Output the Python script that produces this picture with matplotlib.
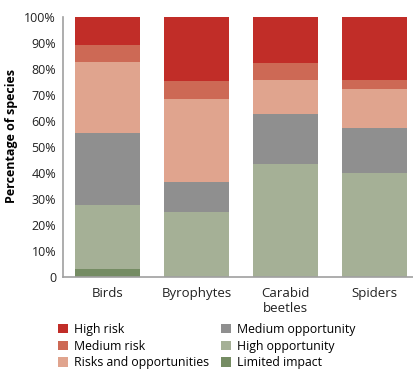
import numpy as np
import matplotlib
matplotlib.use("Agg")
import matplotlib.pyplot as plt

plt.rcParams["font.family"] = ["Open Sans", "DejaVu Sans"]

groups = ["Birds", "Byrophytes", "Carabid\nbeetles", "Spiders"]

# stacked from the bottom up
limited_impact = [3.2, 0.0, 0.0, 0.0]
high_opportunity = [24.6, 25.0, 43.6, 40.1]
medium_opportunity = [27.6, 11.5, 19.1, 17.2]
risks_and_opportunities = [27.3, 32.0, 13.1, 15.0]
medium_risk = [6.6, 6.9, 6.5, 3.5]
high_risk = [10.7, 24.6, 17.7, 24.2]

series = [
    ("Limited impact", limited_impact, "#758c63"),
    ("High opportunity", high_opportunity, "#a5b096"),
    ("Medium opportunity", medium_opportunity, "#8f8f8f"),
    ("Risks and opportunities", risks_and_opportunities, "#e0a48e"),
    ("Medium risk", medium_risk, "#cd6955"),
    ("High risk", high_risk, "#c12d28"),
]

fig = plt.figure(figsize=(4.14, 3.72), dpi=100)
ax = fig.add_axes([63 / 414, 1 - 277 / 372, 1 - 63 / 414, (277 - 16.7) / 372])

x = np.arange(len(groups))
bottom = np.zeros(len(groups))
handles = {}
for name, vals, color in series:
    vals = np.array(vals)
    h = ax.bar(x, vals, bottom=bottom, width=0.73, color=color, label=name)
    handles[name] = h
    bottom += vals

ax.set_xlim(-0.5, 3.444)
ax.set_ylim(0, 100)
ax.set_yticks(np.arange(0, 101, 10))
ax.set_yticklabels(["0"] + [f"{v}%" for v in range(10, 101, 10)])
ax.set_xticks(x)
ax.set_xticklabels(groups)
ax.tick_params(axis="both", length=0, labelsize=9, colors="#222222")
ax.tick_params(axis="x", pad=7, labelsize=9.5)
ax.tick_params(axis="y", pad=5)
ax.set_ylabel("Percentage of species", fontsize=9, fontweight="bold")
ax.yaxis.set_label_coords(-0.128, 0.54)

for side in ["top", "right"]:
    ax.spines[side].set_visible(False)
for side in ["left", "bottom"]:
    ax.spines[side].set_color("#a0a0a0")
    ax.spines[side].set_linewidth(1.2)

order = ["High risk", "Medium risk", "Risks and opportunities",
         "Medium opportunity", "High opportunity", "Limited impact"]
fig.legend([handles[n] for n in order], order, ncol=2, frameon=False,
           loc="upper left", bbox_to_anchor=(58 / 414, 1 - 323 / 372),
           fontsize=8.8, handlelength=0.8, handleheight=0.8,
           handletextpad=0.5, columnspacing=1.0, labelspacing=0.3,
           borderpad=0, borderaxespad=0)

fig.savefig("out.png", dpi=100)
